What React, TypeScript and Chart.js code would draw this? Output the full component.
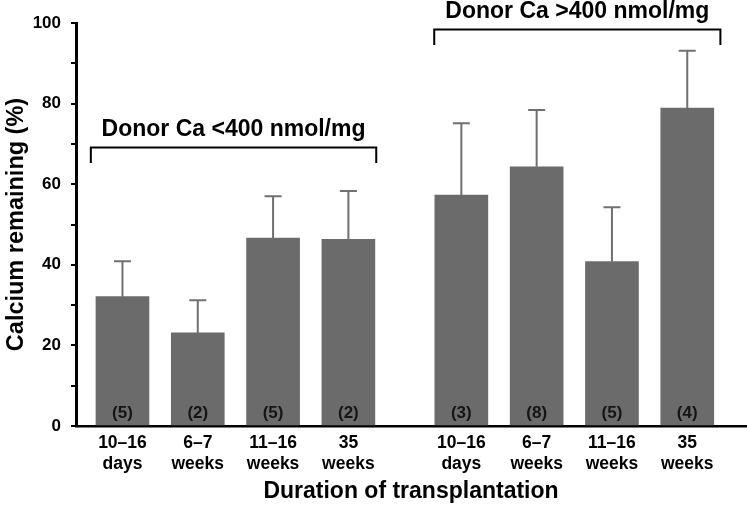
import React, { useEffect, useRef } from "react";
import { Chart, registerables } from "chart.js";

Chart.register(...registerables);

// ---- data ----
const barPositions = [0, 1, 2, 3, 4.5, 5.5, 6.5, 7.5];
const durationTop = ["10–16", "6–7", "11–16", "35", "10–16", "6–7", "11–16", "35"];
const durationBottom = ["days", "weeks", "weeks", "weeks", "days", "weeks", "weeks", "weeks"];
const meanRemaining = [32.1, 23.1, 46.6, 46.3, 57.3, 64.3, 40.8, 78.9];
const sdUpper = [8.8, 8.1, 10.4, 12.0, 17.8, 14.1, 13.5, 14.2];
const sampleSizes = [5, 2, 5, 2, 3, 8, 5, 4];
const groupLabels = ["Donor Ca <400 nmol/mg", "Donor Ca >400 nmol/mg"];
const groupStart = [-0.42, 4.14];
const groupEnd = [3.37, 7.94];
const groupLevel = [69.1, 98.4];
const yTickValues = [0, 10, 20, 30, 40, 50, 60, 70, 80, 90, 100];

const FONT = '"Liberation Sans", Arial, Helvetica, sans-serif';
const BAR_COLOR = "#6b6b6b";

const overlayPlugin = {
  id: "overlay",
  afterDatasetsDraw(chart: any) {
    const { ctx, scales } = chart;
    const x = scales.x;
    const y = scales.y;
    const meta = chart.getDatasetMeta(0);
    ctx.save();
    meta.data.forEach((bar: any, i: number) => {
      const bx = bar.x;
      const top = bar.y;
      const ey = y.getPixelForValue(meanRemaining[i] + sdUpper[i]);
      ctx.strokeStyle = "#707070";
      ctx.lineWidth = 2;
      ctx.beginPath();
      ctx.moveTo(bx, top);
      ctx.lineTo(bx, ey);
      ctx.moveTo(bx - 8.5, ey);
      ctx.lineTo(bx + 8.5, ey);
      ctx.stroke();
      ctx.fillStyle = "#151515";
      ctx.font = `bold 17px ${FONT}`;
      ctx.textAlign = "center";
      ctx.textBaseline = "middle";
      ctx.fillText(`(${sampleSizes[i]})`, bx, y.getPixelForValue(0) - 13);
    });
    groupLabels.forEach((label, g) => {
      const x0 = x.getPixelForValue(groupStart[g]);
      const x1 = x.getPixelForValue(groupEnd[g]);
      const ly = y.getPixelForValue(groupLevel[g]);
      ctx.strokeStyle = "#000";
      ctx.lineWidth = 2;
      ctx.beginPath();
      ctx.moveTo(x0, ly + 15.5);
      ctx.lineTo(x0, ly);
      ctx.lineTo(x1, ly);
      ctx.lineTo(x1, ly + 15.5);
      ctx.stroke();
      ctx.fillStyle = "#000";
      ctx.font = `bold 23px ${FONT}`;
      ctx.textAlign = "center";
      ctx.textBaseline = "middle";
      ctx.fillText(label, (x0 + x1) / 2, ly - 18);
    });
    ctx.restore();
  },
};

export default function App() {
  const canvasRef = useRef<HTMLCanvasElement | null>(null);

  useEffect(() => {
    document.body.style.margin = "0";
    const canvas = canvasRef.current;
    if (!canvas) return;
    const chart = new Chart(canvas, {
      type: "bar",
      data: {
        datasets: [
          {
            data: barPositions.map((p, i) => ({ x: p, y: meanRemaining[i] })),
            backgroundColor: BAR_COLOR,
            borderWidth: 0,
            barThickness: 53,
          },
        ],
      },
      options: {
        responsive: false,
        animation: false,
        devicePixelRatio: 1,
        layout: { padding: { top: 23, right: 1, left: 0, bottom: 0 } },
        plugins: {
          legend: { display: false },
          tooltip: { enabled: false },
          title: { display: false },
        },
        scales: {
          x: {
            type: "linear",
            offset: false,
            min: -0.617,
            max: 8.28,
            bounds: "data",
            grid: { display: false, drawTicks: false, offset: false },
            border: { display: true, color: "#000", width: 2.5 },
            afterBuildTicks: (scale: any) => {
              scale.ticks = barPositions.map((v) => ({ value: v }));
            },
            afterFit: (scale: any) => {
              scale.height = 84;
            },
            ticks: {
              autoSkip: false,
              maxRotation: 0,
              minRotation: 0,
              padding: 7,
              color: "#000",
              font: { family: FONT, size: 17.5, weight: "bold", lineHeight: 1.2 },
              callback: (_v: any, index: number) => [durationTop[index], durationBottom[index]],
            },
            title: {
              display: true,
              text: "Duration of transplantation",
              color: "#000",
              font: { family: FONT, size: 23, weight: "bold", lineHeight: 1.2 },
              padding: { top: 0, bottom: 5 },
            },
          },
          y: {
            type: "linear",
            min: 0,
            max: 100,
            afterBuildTicks: (scale: any) => {
              scale.ticks = yTickValues.map((v) => ({ value: v }));
            },
            afterFit: (scale: any) => {
              scale.width = 76;
            },
            grid: {
              display: true,
              drawOnChartArea: false,
              drawTicks: true,
              tickLength: 5,
              color: "#000",
              lineWidth: 2,
            },
            border: { display: true, color: "#000", width: 3 },
            ticks: {
              padding: 10,
              color: "#000",
              font: { family: FONT, size: 17, weight: "bold" },
              callback: (v: any) => (Number(v) % 20 === 0 ? String(v) : ""),
            },
            title: {
              display: true,
              text: "Calcium remaining (%)",
              color: "#000",
              font: { family: FONT, size: 23.5, weight: "bold", lineHeight: 1.2 },
              padding: { top: 2, bottom: 0 },
            },
          },
        },
      },
      plugins: [overlayPlugin],
    } as any);
    return () => chart.destroy();
  }, []);

  return (
    <div style={{ width: 747, height: 510 }}>
      <canvas ref={canvasRef} width={747} height={510} style={{ display: "block", width: 747, height: 510 }} />
    </div>
  );
}
